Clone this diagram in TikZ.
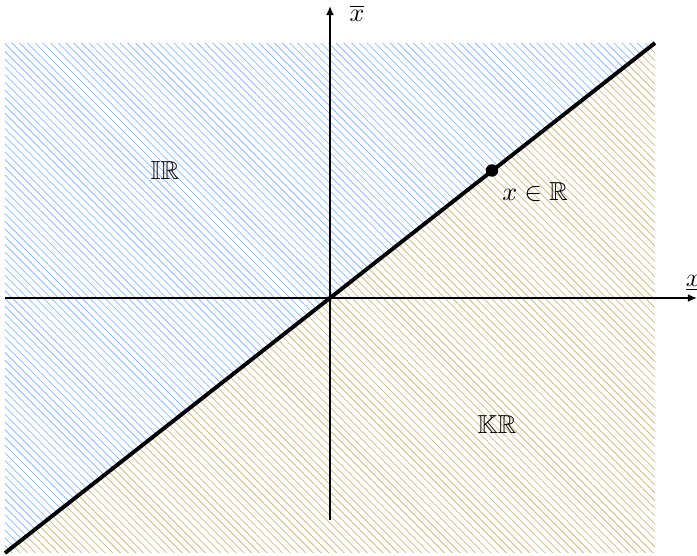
\documentclass[tikz,border=0pt]{standalone}
\usepackage{amssymb}
\usetikzlibrary{patterns.meta,arrows.meta,positioning}
\definecolor{hatchblue}{RGB}{140,185,255}
\definecolor{hatchgold}{RGB}{210,185,125}
\tikzset{
  hatch/.style={pattern={Lines[angle=-45,distance=2.1pt,line width=0.3pt]},pattern color=#1},
  axis/.style={line width=0.6pt,-{Latex[length=3.5pt,width=3pt]}}
}
\begin{document}
\begin{tikzpicture}[x=0.676cm,y=0.676cm]
      \useasboundingbox (-6.6,-5.16) rectangle (7.34,5.96);
      \coordinate (sw) at (-6.5,-5.1);
      \coordinate (nw) at (-6.5,5.1);
      \coordinate (ne) at (6.5,5.1);
      \coordinate (se) at (6.5,-5.1);
      \fill[hatch=hatchblue] (sw) -- (nw) -- (ne) -- cycle;
      \fill[hatch=hatchgold] (sw) -- (se) -- (ne) -- cycle;
      \coordinate (xl) at (-6.5,0);
      \coordinate (xr) at (7.34,0);
      \coordinate (yb) at (0,-4.45);
      \coordinate (yt) at (0,5.84);
      \draw[axis] (xl) -- (xr);
      \draw[axis] (yb) -- (yt);
      \node[above left=-1pt and -5pt of xr] (xlow) {$\underline{x}$};
      \node[below right=-4pt and 4pt of yt] (xup) {$\overline{x}$};
      \draw[line width=1.5pt] (sw) -- (ne);
      \fill (3.24,2.55) circle (2.4pt) coordinate (pt);
      \node[below right=1pt and 0.5pt of pt] (ptlabel) {$x\in\mathbb{R}$};
      \node (ir) at (-3.3,2.55) {$\mathbb{IR}$};
      \node (kr) at (3.34,-2.54) {$\mathbb{KR}$};
\end{tikzpicture}
\end{document}
